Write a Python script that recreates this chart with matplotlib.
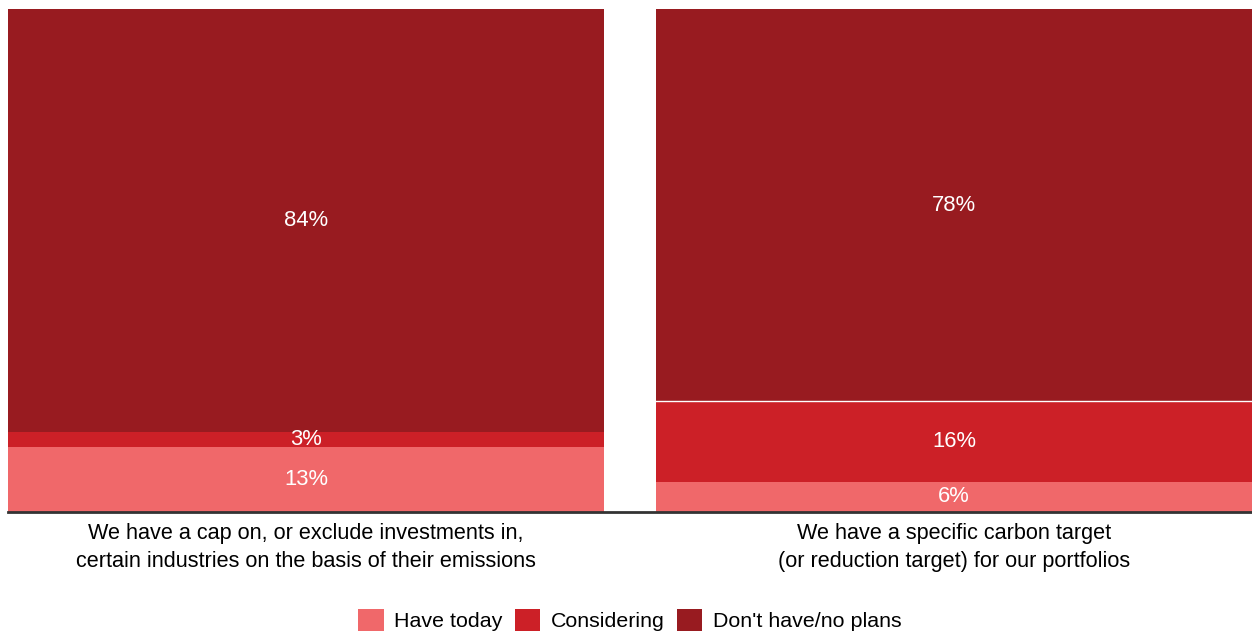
import numpy as np
import matplotlib.pyplot as plt

plt.rcParams['font.family'] = ['Liberation Sans', 'DejaVu Sans']

# survey responses (% of respondents)
categories = ["We have a cap on, or exclude investments in,\ncertain industries on the basis of their emissions",
              "We have a specific carbon target\n(or reduction target) for our portfolios"]
series_names = ["Have today", "Considering", "Don't have/no plans"]
have_today = [13, 6]
considering = [3, 16]
no_plans = [84, 78]

colors = ['#F0686A', '#CC2027', '#981B20']

fig = plt.figure(figsize=(12.52, 6.35), dpi=100)
ax = fig.add_axes([8 / 1252, 1 - 512 / 635, 1 - 8 / 1252, (512 - 9) / 635])

x = np.arange(len(categories))
w = 0.92
bottom = np.zeros(len(categories))
for name, vals, c in zip(series_names, [have_today, considering, no_plans], colors):
    vals = np.array(vals, dtype=float)
    ax.bar(x, vals, w, bottom=bottom, color=c, label=name, linewidth=0)
    for xi, b, v in zip(x, bottom, vals):
        ax.text(xi, b + v / 2, f"{v:.0f}%", ha='center', va='center',
                color='white', fontsize=15.8)
    bottom += vals

# thin white divider above the "considering" block on the second bar
ax.plot([x[1] - w / 2, x[1] + w / 2], [have_today[1] + considering[1]] * 2,
        color='white', lw=1)

ax.set_xlim(-w / 2, 1 + w / 2)
ax.set_ylim(0, 100)
ax.set_yticks([])
ax.set_xticks(x)
ax.set_xticklabels(categories, fontsize=15.6, linespacing=1.42)
ax.tick_params(axis='x', length=0, pad=8)
for s in ['top', 'left', 'right']:
    ax.spines[s].set_visible(False)
ax.spines['bottom'].set_color('#333333')
ax.spines['bottom'].set_linewidth(2)

fig.legend(loc='center', bbox_to_anchor=(0.503, 1 - 620 / 635), ncol=3,
           frameon=False, fontsize=15.4, handlelength=1.2, handleheight=1.2,
           handletextpad=0.5, columnspacing=0.55)

fig.savefig('out.png', dpi=100)
